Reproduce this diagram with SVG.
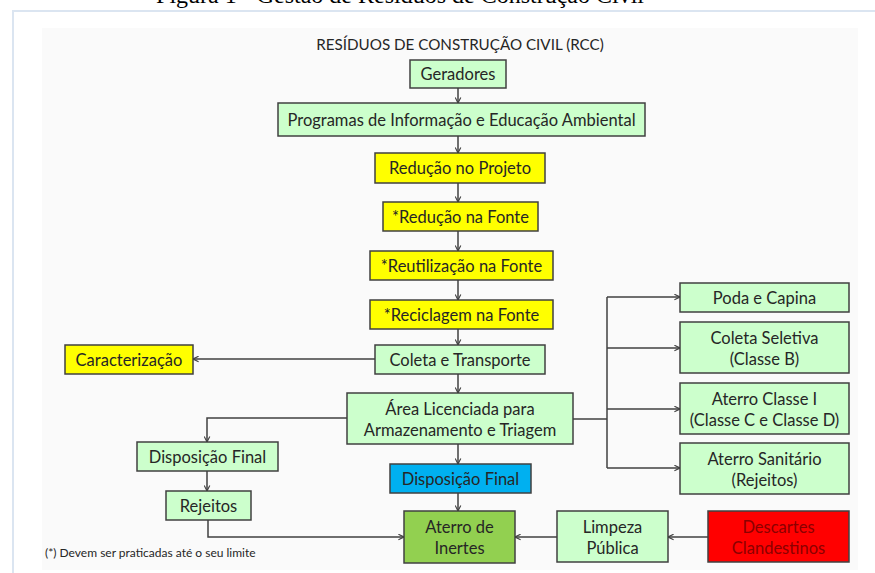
<svg xmlns="http://www.w3.org/2000/svg" width="875" height="573" viewBox="0 0 875 573">
<defs>
<marker id="arr" viewBox="0 0 10 10" refX="9" refY="5" markerWidth="7" markerHeight="7" orient="auto" markerUnits="userSpaceOnUse">
<path d="M1,1 L9,5 L1,9" fill="none" stroke="#404040" stroke-width="1.6"/>
</marker>
</defs>
<style>
.box{stroke:#404040;stroke-width:1.5}
.g{fill:#ccffcc}
.y{fill:#ffff00}
.t{font-family:Lato,"Open Sans",sans-serif;font-size:16.5px;fill:#262626;text-anchor:middle}
.c{fill:none;stroke:#404040;stroke-width:1.5}
</style>
<rect width="875" height="573" fill="#ffffff"/>
<text x="400" y="3" font-family="'Liberation Serif',serif" font-size="24" text-anchor="middle" fill="#000">Figura 1 - Gestão de Resíduos de Construção Civil</text>
<path d="M13,573 V11 H875" fill="none" stroke="#dbe5f1" stroke-width="2"/>
<rect x="42" y="28" width="816" height="542" fill="#fafafa"/>
<text x="460" y="50" font-family="Lato,'Open Sans',sans-serif" font-size="15.2" fill="#262626" text-anchor="middle">RESÍDUOS DE CONSTRUÇÃO CIVIL (RCC)</text>
<text x="45" y="557" font-family="Lato,'Open Sans',sans-serif" font-size="12" fill="#262626">(*) Devem ser praticadas até o seu limite</text>

<g id="connectors">
<line class="c" x1="458" y1="88" x2="458" y2="103" marker-end="url(#arr)"/>
<line class="c" x1="458" y1="136" x2="458" y2="153" marker-end="url(#arr)"/>
<line class="c" x1="458" y1="183" x2="458" y2="202" marker-end="url(#arr)"/>
<line class="c" x1="458" y1="231" x2="458" y2="251" marker-end="url(#arr)"/>
<line class="c" x1="458" y1="280" x2="458" y2="300" marker-end="url(#arr)"/>
<line class="c" x1="458" y1="329" x2="458" y2="345" marker-end="url(#arr)"/>
<line class="c" x1="375" y1="359" x2="193" y2="359" marker-end="url(#arr)"/>
<line class="c" x1="458" y1="374" x2="458" y2="393" marker-end="url(#arr)"/>
<polyline class="c" points="347,418 207,418 207,442" marker-end="url(#arr)"/>
<line class="c" x1="207" y1="471" x2="207" y2="491" marker-end="url(#arr)"/>
<polyline class="c" points="208,520 208,537 404,537" marker-end="url(#arr)"/>
<line class="c" x1="458" y1="444" x2="458" y2="464" marker-end="url(#arr)"/>
<line class="c" x1="458" y1="493" x2="458" y2="511" marker-end="url(#arr)"/>
<line class="c" x1="573" y1="419" x2="607" y2="419"/>
<line class="c" x1="607" y1="297" x2="607" y2="468"/>
<line class="c" x1="607" y1="297" x2="680" y2="297" marker-end="url(#arr)"/>
<line class="c" x1="607" y1="348" x2="680" y2="348" marker-end="url(#arr)"/>
<line class="c" x1="607" y1="409" x2="680" y2="409" marker-end="url(#arr)"/>
<line class="c" x1="607" y1="468" x2="680" y2="468" marker-end="url(#arr)"/>
<line class="c" x1="557" y1="537" x2="515" y2="537" marker-end="url(#arr)"/>
<line class="c" x1="708" y1="537" x2="668" y2="537" marker-end="url(#arr)"/>
</g>

<g id="geradores"><rect class="box g" x="410" y="60" width="96" height="28"/><text class="t" x="458" y="80">Geradores</text></g>
<g id="programas"><rect class="box g" x="278" y="103" width="367" height="33"/><text class="t" x="461.5" y="125.5">Programas de Informação e Educação Ambiental</text></g>
<g id="reducao-projeto"><rect class="box y" x="375" y="153" width="170" height="30"/><text class="t" x="460" y="174">Redução no Projeto</text></g>
<g id="reducao-fonte"><rect class="box y" x="383" y="202" width="155" height="29"/><text class="t" x="460.5" y="222.5">*Redução na Fonte</text></g>
<g id="reutilizacao-fonte"><rect class="box y" x="370" y="251" width="183" height="29"/><text class="t" x="461.5" y="271.5">*Reutilização na Fonte</text></g>
<g id="reciclagem-fonte"><rect class="box y" x="370" y="300" width="183" height="29"/><text class="t" x="461.5" y="320.5">*Reciclagem na Fonte</text></g>
<g id="coleta-transporte"><rect class="box g" x="375" y="345" width="170" height="29"/><text class="t" x="460" y="365.5">Coleta e Transporte</text></g>
<g id="caracterizacao"><rect class="box y" x="65" y="345" width="128" height="29"/><text class="t" x="129" y="365.5">Caracterização</text></g>
<g id="area-licenciada"><rect class="box g" x="347" y="393" width="226" height="51"/><text class="t" x="460" y="414.5">Área Licenciada para</text><text class="t" x="460" y="435.5">Armazenamento e Triagem</text></g>
<g id="disposicao-final-esq"><rect class="box g" x="137" y="442" width="141" height="29"/><text class="t" x="207.5" y="462.5">Disposição Final</text></g>
<g id="rejeitos"><rect class="box g" x="166" y="491" width="85" height="29"/><text class="t" x="208.5" y="511.5">Rejeitos</text></g>
<g id="disposicao-final"><rect class="box" fill="#00b0f0" x="390" y="464" width="141" height="29"/><text class="t" x="460.5" y="484.5">Disposição Final</text></g>
<g id="aterro-inertes"><rect class="box" fill="#92d050" x="404" y="511" width="111" height="52"/><text class="t" x="459.5" y="532.5">Aterro de</text><text class="t" x="459.5" y="553.5">Inertes</text></g>
<g id="limpeza-publica"><rect class="box g" x="557" y="511" width="111" height="51"/><text class="t" x="612.5" y="532.5">Limpeza</text><text class="t" x="612.5" y="553.5">Pública</text></g>
<g id="descartes"><rect class="box" fill="#ff0000" x="708" y="511" width="141" height="51"/><text class="t" x="778.5" y="532.5" style="fill:#8b0000">Descartes</text><text class="t" x="778.5" y="553.5" style="fill:#8b0000">Clandestinos</text></g>
<g id="poda-capina"><rect class="box g" x="680" y="283" width="169" height="29"/><text class="t" x="764.5" y="303.5">Poda e Capina</text></g>
<g id="coleta-seletiva"><rect class="box g" x="680" y="322" width="169" height="51"/><text class="t" x="764.5" y="343.5">Coleta Seletiva</text><text class="t" x="764.5" y="364.5">(Classe B)</text></g>
<g id="aterro-classe-i"><rect class="box g" x="680" y="383" width="169" height="51"/><text class="t" x="764.5" y="404.5">Aterro Classe I</text><text class="t" x="764.5" y="425.5">(Classe C e Classe D)</text></g>
<g id="aterro-sanitario"><rect class="box g" x="680" y="443" width="169" height="51"/><text class="t" x="764.5" y="464.5">Aterro Sanitário</text><text class="t" x="764.5" y="485.5">(Rejeitos)</text></g>
</svg>
